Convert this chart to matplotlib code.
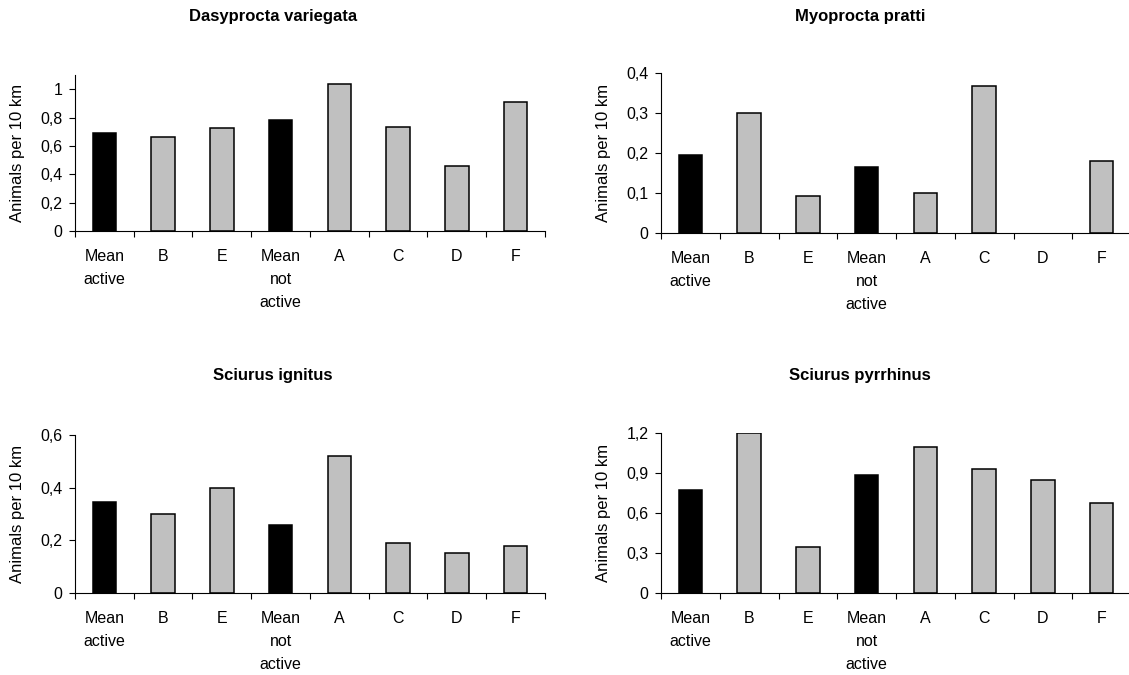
import matplotlib
matplotlib.use("Agg")
import matplotlib.pyplot as plt
from matplotlib.ticker import FixedLocator, FuncFormatter

plt.rcParams['font.family'] = ['Liberation Sans', 'DejaVu Sans']

categories = ["Mean\nactive", "B", "E", "Mean\nnot\nactive", "A", "C", "D", "F"]
bar_colors = ["black", "#c0c0c0", "#c0c0c0", "black", "#c0c0c0", "#c0c0c0", "#c0c0c0", "#c0c0c0"]

dasyprocta = [0.69, 0.66, 0.725, 0.78, 1.035, 0.735, 0.46, 0.91]
myoprocta = [0.195, 0.30, 0.092, 0.164, 0.10, 0.368, 0.0, 0.179]
ignitus = [0.347, 0.30, 0.40, 0.258, 0.521, 0.19, 0.15, 0.18]
pyrrhinus = [0.774, 1.20, 0.346, 0.88, 1.092, 0.927, 0.844, 0.675]

titles = ["Dasyprocta variegata", "Myoprocta pratti", "Sciurus ignitus", "Sciurus pyrrhinus"]
series = [dasyprocta, myoprocta, ignitus, pyrrhinus]
ylims = [1.1, 0.4, 0.6, 1.2]
ysteps = [0.2, 0.1, 0.2, 0.3]
yticks_max = [1.0, 0.4, 0.6, 1.2]

fig = plt.figure(figsize=(11.29, 6.75), dpi=100)

# axes boxes in figure fractions (left, bottom, width, height)
boxes = [
    [0.0664, 0.6578, 0.4163, 0.2311],
    [0.5855, 0.6548, 0.4163, 0.2370],
    [0.0664, 0.1215, 0.4163, 0.2340],
    [0.5855, 0.1215, 0.4163, 0.2375],
]
title_pos = [(0.242, 0.976), (0.762, 0.976), (0.242, 0.443), (0.762, 0.443)]


def comma_fmt(v, pos):
    return ("%g" % round(v, 3)).replace(".", ",")


for i in range(4):
    ax = fig.add_axes(boxes[i])
    x = list(range(len(categories)))
    vals = series[i]
    # zero values are not drawn as bars in the original
    ax.bar(x, vals, width=0.4, color=bar_colors, edgecolor="black",
           linewidth=[1.1 if v > 0 else 0 for v in vals])
    ax.set_xlim(-0.5, 7.5)
    ax.set_ylim(0, ylims[i])
    n = int(round(yticks_max[i] / ysteps[i]))
    ax.yaxis.set_major_locator(FixedLocator([k * ysteps[i] for k in range(n + 1)]))
    ax.yaxis.set_major_formatter(FuncFormatter(comma_fmt))
    ax.set_xticks(x)
    ax.set_xticklabels(categories, fontsize=11.5, linespacing=1.65, va="top")
    ax.set_xticks([k - 0.5 for k in range(len(categories) + 1)], minor=True)
    ax.tick_params(axis="x", which="major", length=0, pad=13)
    ax.tick_params(axis="x", which="minor", length=4, width=0.8, direction="out")
    ax.tick_params(axis="y", length=4, width=0.8, direction="out", labelsize=11.5, pad=5)
    ax.spines["top"].set_visible(False)
    ax.spines["right"].set_visible(False)
    ax.spines["left"].set_linewidth(0.8)
    ax.spines["bottom"].set_linewidth(0.8)
    ax.set_ylabel("Animals per 10 km", fontsize=12)
    ax.yaxis.set_label_coords(-0.106, 0.5)
    fig.text(title_pos[i][0], title_pos[i][1], titles[i], ha="center", va="center",
             fontsize=12, fontweight="bold")

fig.savefig("out.png", dpi=100)
